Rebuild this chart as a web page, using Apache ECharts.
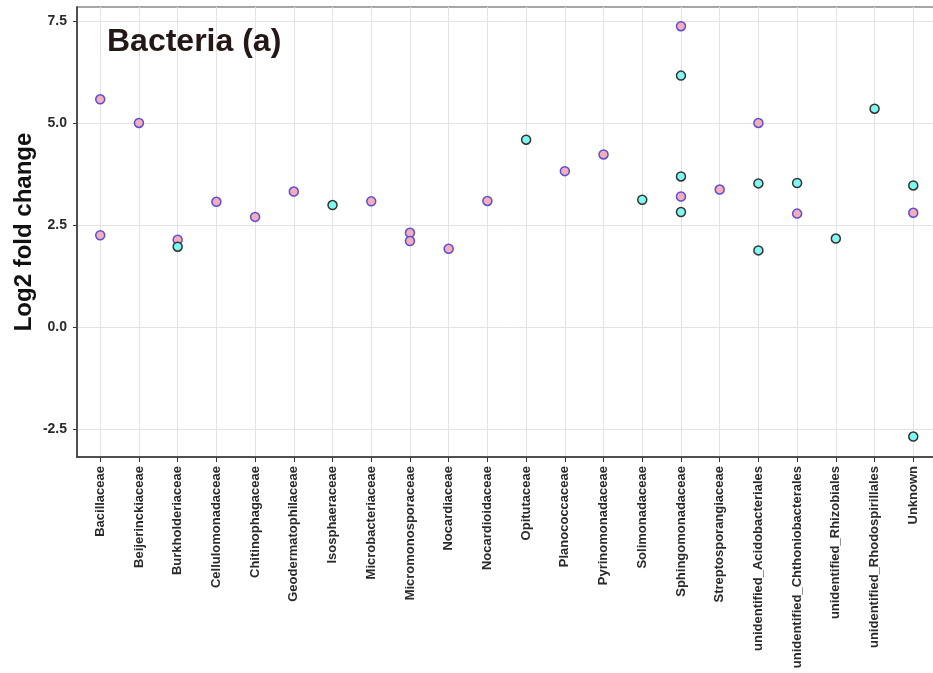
<!DOCTYPE html>
<html>
<head>
<meta charset="utf-8">
<script src="https://cdn.jsdelivr.net/npm/echarts@6/dist/echarts.min.js"></script>
<style>
html,body{margin:0;padding:0;background:#fff;}
#chart{width:933px;height:673px;}
</style>
</head>
<body>
<div id="chart"></div>
<script>
const categories = [
  "Bacillaceae","Beijerinckiaceae","Burkholderiaceae","Cellulomonadaceae","Chitinophagaceae",
  "Geodermatophilaceae","Isosphaeraceae","Microbacteriaceae","Micromonosporaceae","Nocardiaceae",
  "Nocardioidaceae","Opitutaceae","Planococcaceae","Pyrinomonadaceae","Solimonadaceae",
  "Sphingomonadaceae","Streptosporangiaceae","unidentified_Acidobacteriales",
  "unidentified_Chthoniobacterales","unidentified_Rhizobiales","unidentified_Rhodospirillales","Unknown"
];
const yTicks = [-2.5, 0, 2.5, 5, 7.5];

const pinkCats = [
  "Bacillaceae","Bacillaceae","Beijerinckiaceae","Burkholderiaceae","Cellulomonadaceae",
  "Chitinophagaceae","Geodermatophilaceae","Microbacteriaceae","Micromonosporaceae","Micromonosporaceae",
  "Nocardiaceae","Nocardioidaceae","Planococcaceae","Pyrinomonadaceae","Sphingomonadaceae",
  "Sphingomonadaceae","Streptosporangiaceae","unidentified_Acidobacteriales",
  "unidentified_Chthoniobacterales","Unknown"
];
const pinkValues = [
  5.58, 2.25, 5.00, 2.14, 3.07,
  2.70, 3.32, 3.08, 2.31, 2.11,
  1.92, 3.09, 3.82, 4.23, 7.37,
  3.20, 3.37, 5.00,
  2.78, 2.80
];

const cyanCats = [
  "Burkholderiaceae","Isosphaeraceae","Opitutaceae","Solimonadaceae",
  "Sphingomonadaceae","Sphingomonadaceae","Sphingomonadaceae",
  "unidentified_Acidobacteriales","unidentified_Acidobacteriales",
  "unidentified_Chthoniobacterales","unidentified_Rhizobiales","unidentified_Rhodospirillales",
  "Unknown","Unknown"
];
const cyanValues = [
  1.97, 2.99, 4.59, 3.12,
  6.16, 3.69, 2.82,
  3.52, 1.88,
  3.53, 2.17, 5.35,
  3.47, -2.68
];

function toPoints(cats, vals) {
  return cats.map((c, i) => [categories.indexOf(c), vals[i]]);
}

const chart = echarts.init(document.getElementById('chart'), null, {renderer: 'canvas'});
const catIdx = categories.map((c, i) => i);
const labelColor = '#2a2a2a';
const fontFam = '"Liberation Sans", Arial, sans-serif';

chart.setOption({
  animation: false,
  backgroundColor: '#ffffff',
  title: {
    text: 'Bacteria (a)',
    left: 107,
    top: 26,
    padding: 0,
    textStyle: {fontSize: 32, fontWeight: 'bold', color: '#231815', fontFamily: fontFam}
  },
  graphic: [{
    type: 'text',
    x: 24,
    y: 232,
    rotation: Math.PI / 2,
    style: {
      text: 'Log2 fold change',
      font: 'bold 24px ' + fontFam,
      fill: '#111111',
      textAlign: 'center',
      textVerticalAlign: 'middle'
    }
  }],
  grid: {
    left: 77, top: 7, width: 859.5, height: 450,
    outerBoundsMode: 'none',
    containLabel: false,
    show: true, borderColor: '#8a8a8a', borderWidth: 1.5, backgroundColor: 'transparent'
  },
  xAxis: {
    type: 'value',
    min: -0.6,
    max: 21.6,
    axisLine: {show: true, onZero: false, lineStyle: {color: '#333333', width: 1.5}},
    axisTick: {show: true, length: 5, customValues: catIdx, lineStyle: {color: '#333333', width: 1}},
    axisLabel: {
      customValues: catIdx,
      rotate: 90,
      margin: 9,
      fontSize: 13,
      fontWeight: 'bold',
      fontFamily: fontFam,
      color: labelColor,
      formatter: v => categories[Math.round(v)] || ''
    },
    splitLine: {show: true, lineStyle: {color: '#e3e3e3', width: 1}}
  },
  yAxis: {
    type: 'value',
    min: -3.18,
    max: 7.84,
    axisLine: {show: true, onZero: false, lineStyle: {color: '#333333', width: 1.5}},
    axisTick: {show: true, length: 4, customValues: yTicks, lineStyle: {color: '#333333', width: 1}},
    axisLabel: {
      customValues: yTicks,
      margin: 10,
      fontSize: 14,
      fontWeight: 'bold',
      fontFamily: fontFam,
      color: labelColor,
      formatter: v => Number(v).toFixed(1)
    },
    splitLine: {show: true, lineStyle: {color: '#e3e3e3', width: 1}}
  },
  series: [
    {
      name: 'Pink group',
      type: 'scatter',
      symbol: 'circle',
      symbolSize: 9,
      data: toPoints(pinkCats, pinkValues),
      itemStyle: {color: '#f6adbb', borderColor: '#5a4ed4', borderWidth: 1.5, opacity: 1},
      z: 3
    },
    {
      name: 'Cyan group',
      type: 'scatter',
      symbol: 'circle',
      symbolSize: 9,
      data: toPoints(cyanCats, cyanValues),
      itemStyle: {color: '#7ff8f2', borderColor: '#333333', borderWidth: 1.5, opacity: 1},
      z: 4
    }
  ]
});
</script>
</body>
</html>
